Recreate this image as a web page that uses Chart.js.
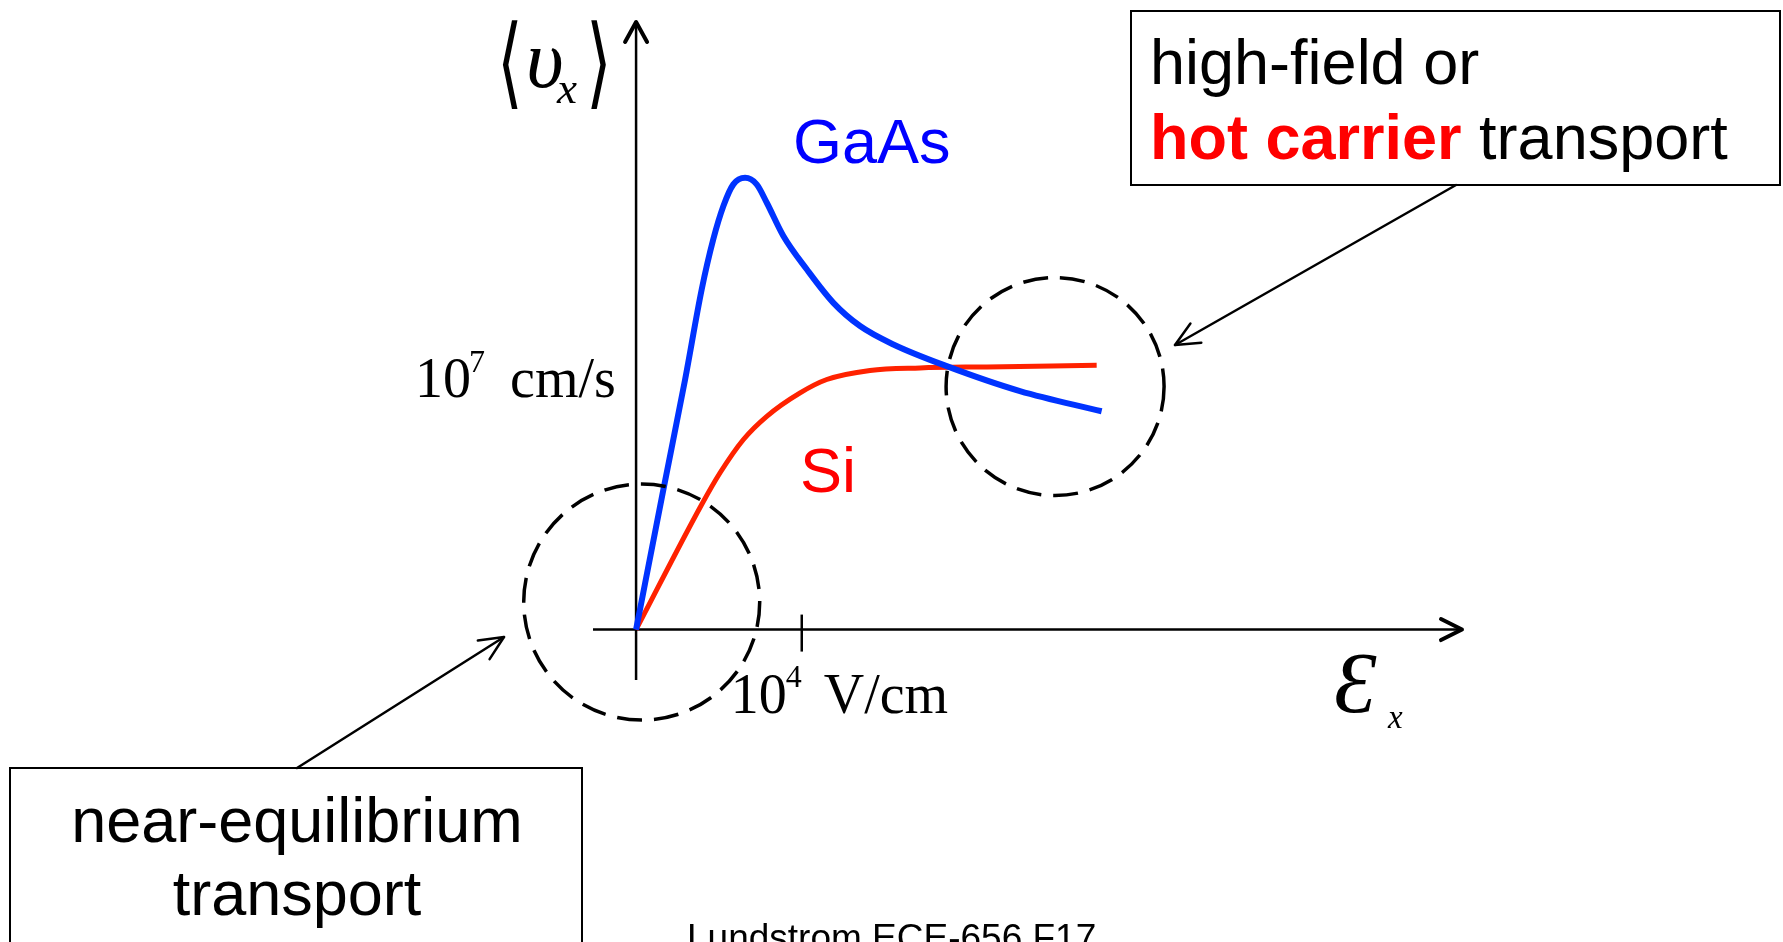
<!DOCTYPE html>
<html>
<head>
<meta charset="utf-8">
<script src="https://cdn.jsdelivr.net/npm/chart.js@4.4.1/dist/chart.umd.min.js"></script>
<style>
  html, body { margin: 0; padding: 0; background: #ffffff; overflow: hidden; }
  canvas { display: block; }
</style>
</head>
<body>
<canvas id="chart" width="1783" height="942"></canvas>
<script>
// Average drift velocity vs. electric field.
// Field in units of 10^4 V/cm, velocity in units of 10^7 cm/s.
const gaasField    = [0, 0.165, 0.296, 0.396, 0.466, 0.527, 0.587, 0.658, 0.728, 0.789, 0.889, 1.030, 1.191, 1.352, 1.553, 1.875, 2.317, 2.810];
const gaasVelocity = [0, 0.556, 0.992, 1.349, 1.548, 1.680, 1.766, 1.792, 1.766, 1.693, 1.561, 1.429, 1.296, 1.204, 1.131, 1.045, 0.946, 0.866];

const siField    = [0, 0.396, 0.507, 0.648, 0.789, 0.990, 1.151, 1.412, 1.714, 2.117, 2.780];
const siVelocity = [0, 0.496, 0.622, 0.754, 0.846, 0.939, 0.992, 1.028, 1.038, 1.042, 1.048];

// The single marked tick on each axis
const fieldTick = 1;      // 10^4 V/cm
const velocityTick = 1;   // 10^7 cm/s

// Axis extents (the arrows run from min to max)
const fieldRange = [-0.26, 4.985];
const velocityRange = [-0.2, 2.41];

// Regions circled on the plot: centre in data units
const equilibriumRegion = { x: 0.034, y: 0.109 };
const hotCarrierRegion  = { x: 2.529, y: 0.964 };

const toPoints = (xs, ys) => xs.map((v, i) => ({ x: v, y: ys[i] }));

const SANS = '"Liberation Sans", Arial, sans-serif';
const SERIF = '"Liberation Serif", "Times New Roman", serif';

function strokeLine(ctx, x1, y1, x2, y2) {
  ctx.beginPath();
  ctx.moveTo(x1, y1);
  ctx.lineTo(x2, y2);
  ctx.stroke();
}

// open "V" shaped arrow head at (tx, ty) pointing along angle
function chevron(ctx, tx, ty, angle, len, half) {
  const bx = tx - Math.cos(angle) * len;
  const by = ty - Math.sin(angle) * len;
  const nx = -Math.sin(angle) * half;
  const ny = Math.cos(angle) * half;
  ctx.beginPath();
  ctx.moveTo(bx + nx, by + ny);
  ctx.lineTo(tx, ty);
  ctx.lineTo(bx - nx, by - ny);
  ctx.stroke();
}

function arrow(ctx, x1, y1, x2, y2) {
  strokeLine(ctx, x1, y1, x2, y2);
  chevron(ctx, x2, y2, Math.atan2(y2 - y1, x2 - x1), 24, 11);
}

// glyph stretched vertically (tall angle brackets)
function stretchedText(ctx, str, tx, ty, sx, sy) {
  ctx.save();
  ctx.translate(tx, ty);
  ctx.scale(sx, sy);
  ctx.fillText(str, 0, 0);
  ctx.restore();
}

const sketchPlugin = {
  id: 'sketch',
  beforeDatasetsDraw(chart) {
    const { ctx, scales: { x, y } } = chart;
    const x0 = x.getPixelForValue(0);
    const y0 = y.getPixelForValue(0);
    ctx.save();
    ctx.strokeStyle = '#000';
    ctx.lineWidth = 2.5;
    ctx.lineCap = 'butt';
    strokeLine(ctx, x.left, y0, x.right - 2, y0);
    strokeLine(ctx, x0, y.bottom, x0, y.top + 2);
    const xt = x.getPixelForValue(fieldTick);
    strokeLine(ctx, xt, y0 - 15, xt, y0 + 22);
    ctx.lineWidth = 4;
    ctx.lineCap = 'round';
    ctx.lineJoin = 'round';
    chevron(ctx, x.right, y0, 0, 21, 10.5);
    chevron(ctx, x0, y.top, -Math.PI / 2, 20, 11);
    ctx.restore();
  },
  afterDatasetsDraw(chart) {
    const { ctx, scales: { x, y } } = chart;
    ctx.save();
    ctx.strokeStyle = '#000';
    ctx.lineWidth = 3.5;
    ctx.setLineDash([25, 12]);
    ctx.beginPath();
    ctx.arc(x.getPixelForValue(equilibriumRegion.x), y.getPixelForValue(equilibriumRegion.y), 118, 0, Math.PI * 2);
    ctx.stroke();
    ctx.beginPath();
    ctx.arc(x.getPixelForValue(hotCarrierRegion.x), y.getPixelForValue(hotCarrierRegion.y), 109, 0, Math.PI * 2);
    ctx.stroke();
    ctx.restore();
  },
  afterDraw(chart) {
    const { ctx, scales: { x, y } } = chart;
    const x0 = x.getPixelForValue(0);
    const y0 = y.getPixelForValue(0);
    ctx.save();
    ctx.textBaseline = 'alphabetic';
    ctx.textAlign = 'left';
    ctx.fillStyle = '#000';

    // velocity tick label: 10^7 cm/s
    const yv = y.getPixelForValue(velocityTick) + 20;
    ctx.font = `56px ${SERIF}`;
    ctx.fillText('10', x0 - 221, yv);
    ctx.font = `32px ${SERIF}`;
    ctx.fillText('7', x0 - 167, yv - 25);
    ctx.font = `56px ${SERIF}`;
    ctx.fillText('cm/s', x0 - 126, yv);

    // field tick label: 10^4 V/cm
    const xf = x.getPixelForValue(fieldTick);
    ctx.font = `56px ${SERIF}`;
    ctx.fillText('10', xf - 71, y0 + 83);
    ctx.font = `32px ${SERIF}`;
    ctx.fillText('4', xf - 16, y0 + 57);
    ctx.font = `56px ${SERIF}`;
    ctx.fillText('V/cm', xf + 22, y0 + 83);

    // vertical axis title <v_x>
    ctx.font = `60px "DejaVu Sans", sans-serif`;
    stretchedText(ctx, '\u27E8', x0 - 139, 96, 1.1, 1.66);
    stretchedText(ctx, '\u27E9', x0 - 50, 96, 1.1, 1.66);
    ctx.font = `italic 82px ${SERIF}`;
    ctx.fillText('\u03C5', x0 - 110, 87);
    ctx.font = `italic 45px ${SERIF}`;
    ctx.fillText('x', x0 - 79, 103);

    // horizontal axis title E_x
    ctx.font = `italic 86px ${SERIF}`;
    ctx.fillText('\u0190', 1334, 712);
    ctx.font = `italic 33px ${SERIF}`;
    ctx.fillText('x', 1388, 728);

    // series labels
    ctx.font = `63px ${SANS}`;
    ctx.fillStyle = '#0000ff';
    ctx.fillText('GaAs', 793, 163);
    ctx.fillStyle = '#ff0000';
    ctx.fillText('Si', 800, 492);

    // annotation boxes
    ctx.strokeStyle = '#000';
    ctx.lineWidth = 2;
    ctx.strokeRect(1131, 11, 649, 174);
    ctx.strokeRect(10, 768, 572, 200);

    ctx.fillStyle = '#000';
    ctx.font = `63px ${SANS}`;
    ctx.fillText('high-field or', 1150, 84);
    ctx.font = `bold 63px ${SANS}`;
    ctx.fillStyle = '#ff0000';
    ctx.fillText('hot carrier', 1150, 159);
    const hw = ctx.measureText('hot carrier').width;
    ctx.font = `63px ${SANS}`;
    ctx.fillStyle = '#000';
    ctx.fillText(' transport', 1150 + hw, 159);

    ctx.textAlign = 'center';
    ctx.fillText('near-equilibrium', 297, 842);
    ctx.fillText('transport', 297, 915);

    // annotation arrows
    ctx.lineWidth = 2.5;
    ctx.lineCap = 'round';
    ctx.lineJoin = 'round';
    arrow(ctx, 1456, 185, 1175, 345);
    arrow(ctx, 297, 768, 504, 637);

    // footer
    ctx.textAlign = 'left';
    ctx.font = `37px ${SANS}`;
    ctx.fillText('Lundstrom ECE-656 F17', 687, 950);
    ctx.restore();
  }
};

new Chart(document.getElementById('chart'), {
  type: 'scatter',
  data: {
    datasets: [
      {
        label: 'GaAs',
        data: toPoints(gaasField, gaasVelocity),
        showLine: true,
        borderColor: '#0033ff',
        borderWidth: 6,
        pointRadius: 0,
        cubicInterpolationMode: 'monotone',
        clip: false,
        order: 0
      },
      {
        label: 'Si',
        data: toPoints(siField, siVelocity),
        showLine: true,
        borderColor: '#ff2200',
        borderWidth: 5,
        pointRadius: 0,
        cubicInterpolationMode: 'monotone',
        clip: false,
        order: 1
      }
    ]
  },
  options: {
    responsive: false,
    animation: false,
    devicePixelRatio: 1,
    layout: { padding: { left: 593, right: 321, top: 22, bottom: 262 } },
    scales: {
      x: { type: 'linear', min: fieldRange[0], max: fieldRange[1], display: false },
      y: { type: 'linear', min: velocityRange[0], max: velocityRange[1], display: false }
    },
    plugins: {
      legend: { display: false },
      tooltip: { enabled: false }
    }
  },
  plugins: [sketchPlugin]
});
</script>
</body>
</html>
